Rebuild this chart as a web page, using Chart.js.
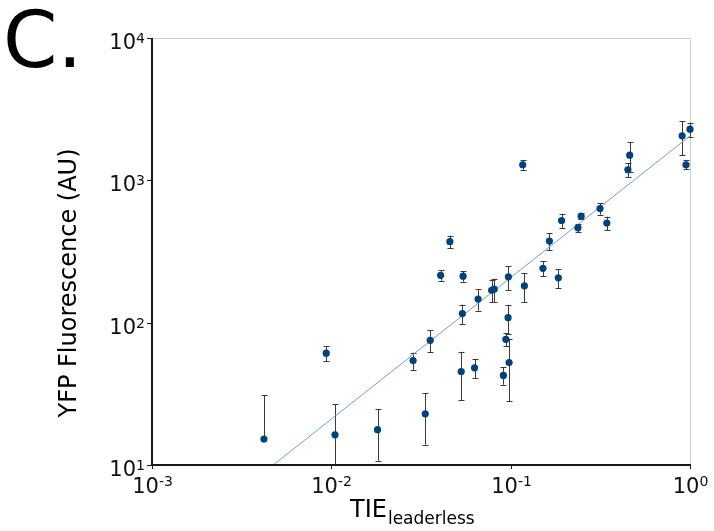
<!DOCTYPE html>
<html><head><meta charset="utf-8">
<script src="https://cdn.jsdelivr.net/npm/chart.js@4.4.0/dist/chart.umd.min.js"></script>
<style>html,body{margin:0;padding:0;background:#fff;}</style>
</head><body>
<canvas id="c" width="714" height="531"></canvas>
<script>
// TIE_leaderless (x), YFP fluorescence (y), error (linear, symmetric)
const tieX = [0.00421,0.00936,0.01048,0.0181,0.02857,0.0334,0.0356,0.0407,0.0458,0.0530,0.0538,0.0543,0.0629,0.0658,0.0783,0.0809,0.0911,0.094,0.0967,0.0971,0.098,0.1167,0.1193,0.1514,0.1644,0.1844,0.1922,0.2372,0.2472,0.315,0.3438,0.4505,0.461,0.904,0.950,1.0];
const yfpY = [15.2,61.0,16.3,17.7,54.2,22.9,75.2,215,371,45.4,116,212,48.2,146.4,169,171.8,42.6,76.4,108.4,209.8,52.5,1287,181.5,241,374.5,206.4,522,464,560,634,500.6,1187,1503,2053,1287,2286];
const yfpErr = [15.8,7.2,10.5,7.0,7.5,9.0,13,18,38,17,18,18,7.5,25,30,32,6,8,25,40,24.5,100,42,29,50,32,60,32,27,60,55,135,350,550,95,260];
// fitted line end points
const fitX = [0.00474, 1.0];
const fitY = [10, 2050];
// axis ticks
const xTicks = [0.001, 0.01, 0.1, 1];
const xTickExp = ['-3', '-2', '-1', '0'];
const yTicks = [10, 100, 1000, 10000];
const yTickExp = ['1', '2', '3', '4'];

const FONT = '"DejaVu Sans", sans-serif';

const decor = {
  id: 'decor',
  beforeDatasetsDraw(chart) {
    const ctx = chart.ctx, xs = chart.scales.x, ys = chart.scales.y, a = chart.chartArea;
    ctx.save();
    // light frame
    ctx.strokeStyle = '#cfcfcf';
    ctx.lineWidth = 1;
    ctx.beginPath();
    ctx.moveTo(a.left, a.top + 0.5); ctx.lineTo(a.right + 0.5, a.top + 0.5); ctx.lineTo(a.right + 0.5, a.bottom);
    ctx.stroke();
    // error bars
    ctx.beginPath();
    ctx.rect(a.left, a.top - 5, a.right - a.left + 10, a.bottom - a.top + 5);
    ctx.clip();
    ctx.strokeStyle = '#3a3a3a';
    ctx.lineWidth = 1;
    for (let i = 0; i < tieX.length; i++) {
      const px = Math.round(xs.getPixelForValue(tieX[i])) + 0.5;
      const py = ys.getPixelForValue(yfpY[i]);
      const hi = yfpY[i] + yfpErr[i], lo = yfpY[i] - yfpErr[i];
      const pyHi = ys.getPixelForValue(hi);
      ctx.beginPath();
      ctx.moveTo(px, py); ctx.lineTo(px, pyHi);
      ctx.moveTo(px - 3, Math.round(pyHi) + 0.5); ctx.lineTo(px + 3, Math.round(pyHi) + 0.5);
      if (lo > 0) {
        const pyLo = ys.getPixelForValue(lo);
        ctx.moveTo(px, py); ctx.lineTo(px, Math.min(pyLo, a.bottom));
        if (pyLo <= a.bottom) { ctx.moveTo(px - 3, Math.round(pyLo) + 0.5); ctx.lineTo(px + 3, Math.round(pyLo) + 0.5); }
      }
      ctx.stroke();
    }
    ctx.restore();
  },
  afterDraw(chart) {
    const ctx = chart.ctx, xs = chart.scales.x, ys = chart.scales.y, a = chart.chartArea;
    ctx.save();
    // axis lines
    ctx.strokeStyle = '#1a1a1a';
    ctx.lineWidth = 2;
    ctx.beginPath();
    ctx.moveTo(a.left, a.top); ctx.lineTo(a.left, a.bottom); ctx.lineTo(a.right + 1, a.bottom);
    ctx.stroke();
    ctx.lineWidth = 1;
    ctx.fillStyle = '#111';
    // x ticks + labels
    ctx.textBaseline = 'alphabetic';
    for (let i = 0; i < xTicks.length; i++) {
      const px = Math.round(xs.getPixelForValue(xTicks[i])) + 0.5;
      ctx.beginPath(); ctx.moveTo(px, a.bottom); ctx.lineTo(px, a.bottom + 4); ctx.stroke();
      ctx.font = '21px ' + FONT;
      const w1 = ctx.measureText('10').width;
      ctx.font = '14px ' + FONT;
      const w2 = ctx.measureText(xTickExp[i]).width;
      const x0 = px - (w1 + w2) / 2;
      ctx.textAlign = 'left';
      ctx.font = '21px ' + FONT;
      ctx.fillText('10', x0, a.bottom + 28);
      ctx.font = '14px ' + FONT;
      ctx.fillText(xTickExp[i], x0 + w1, a.bottom + 21);
    }
    // y ticks + labels
    for (let i = 0; i < yTicks.length; i++) {
      const py = Math.round(ys.getPixelForValue(yTicks[i])) + 0.5;
      ctx.beginPath(); ctx.moveTo(a.left - 5, py); ctx.lineTo(a.left, py); ctx.stroke();
      ctx.font = '14px ' + FONT;
      const w2 = ctx.measureText(yTickExp[i]).width;
      ctx.textAlign = 'right';
      ctx.fillText(yTickExp[i], a.left - 7, py + 4);
      ctx.font = '21px ' + FONT;
      ctx.fillText('10', a.left - 7 - w2, py + 10);
    }
    // axis titles
    ctx.fillStyle = '#000';
    ctx.textAlign = 'left';
    ctx.font = '24px ' + FONT;
    const tx = 350;
    ctx.fillText('TIE', tx, 517);
    const tw = ctx.measureText('TIE').width;
    ctx.font = '17px ' + FONT;
    ctx.fillText('leaderless', tx + tw + 1, 524);
    ctx.save();
    ctx.translate(76, 283);
    ctx.rotate(-Math.PI / 2);
    ctx.textAlign = 'center';
    ctx.font = '24px ' + FONT;
    ctx.fillText('YFP Fluorescence (AU)', 0, 0);
    ctx.restore();
    // panel label
    ctx.textAlign = 'left';
    ctx.font = '78px ' + FONT;
    ctx.fillText('C.', 3, 67);
    ctx.restore();
  }
};

new Chart(document.getElementById('c'), {
  type: 'scatter',
  data: {
    datasets: [
      {
        type: 'line',
        data: fitX.map((x, i) => ({ x, y: fitY[i] })),
        borderColor: '#6f9fd3',
        borderWidth: 1,
        pointRadius: 0,
        fill: false,
        order: 2
      },
      {
        data: tieX.map((x, i) => ({ x, y: yfpY[i] })),
        backgroundColor: '#00427f',
        borderColor: '#00427f',
        borderWidth: 0,
        pointRadius: 3.6,
        clip: false,
        order: 1
      }
    ]
  },
  options: {
    responsive: false,
    animation: false,
    devicePixelRatio: 1,
    layout: { padding: { left: 152, right: 24, top: 38, bottom: 66 } },
    plugins: { legend: { display: false }, tooltip: { enabled: false } },
    scales: {
      x: { type: 'logarithmic', min: 0.001, max: 1, display: false },
      y: { type: 'logarithmic', min: 10, max: 10000, display: false }
    }
  },
  plugins: [decor]
});
</script>
</body></html>
